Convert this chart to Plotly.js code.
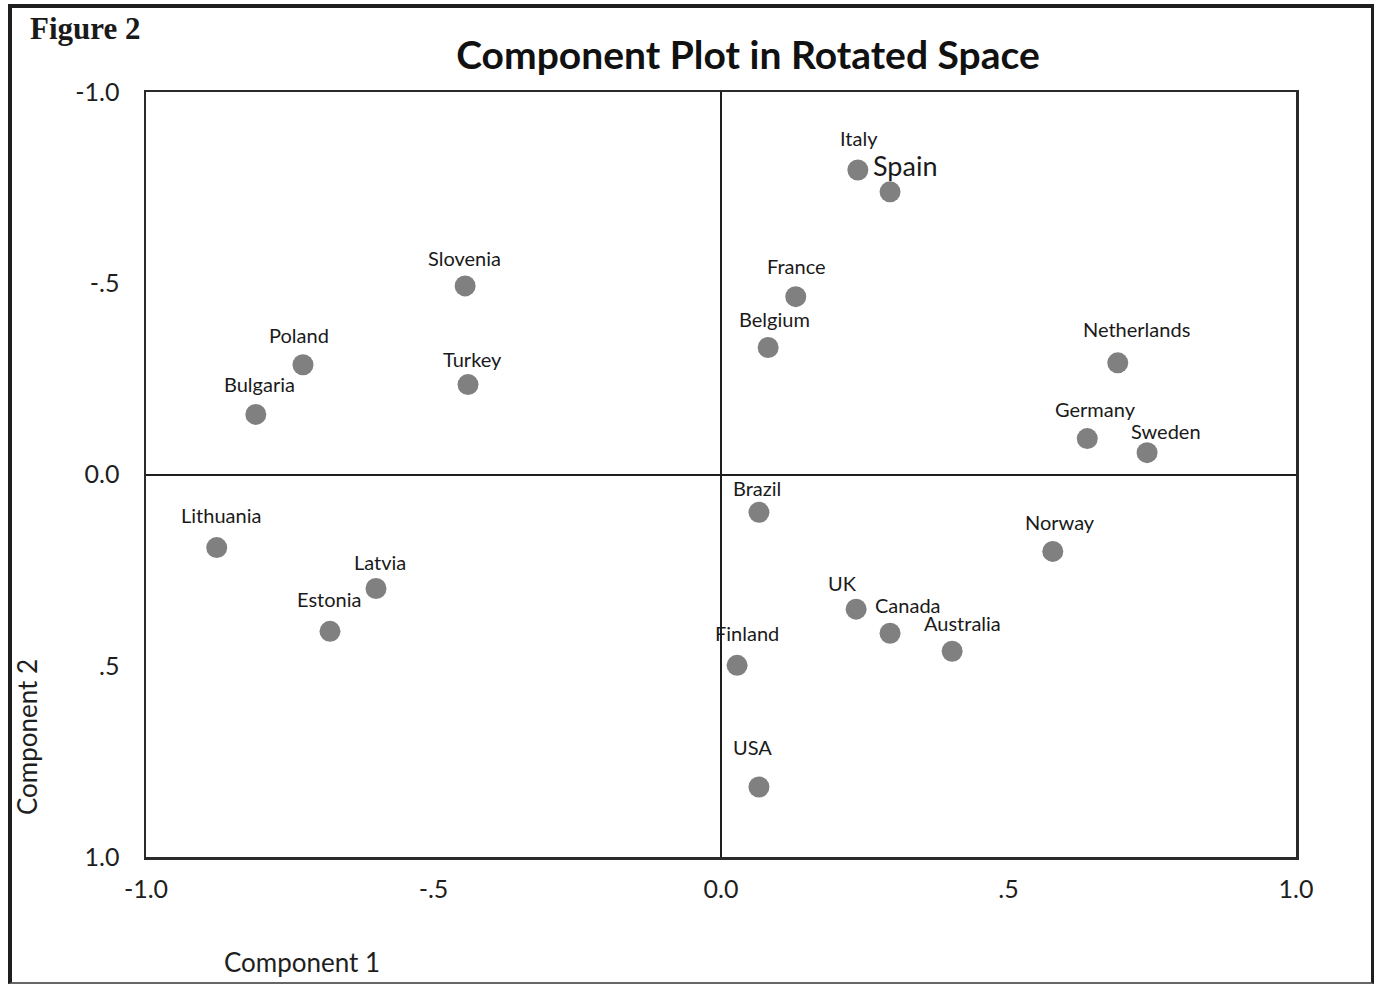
<!DOCTYPE html>
<html>
<head>
<meta charset="utf-8">
<script src="https://cdn.plot.ly/plotly-3.0.1.min.js"></script>
<style>
  html, body { margin: 0; padding: 0; background: #ffffff; }
  #wrap { position: relative; width: 1375px; height: 984px; overflow: hidden; }
  #chart { position: absolute; left: 0; top: 0; width: 1375px; height: 984px; }
  #frame { position: absolute; left: 8px; top: 4px; width: 1366px; height: 980px;
           border: 4px solid #1e1e1e; border-right-width: 3px; border-bottom: 2px solid #666;
           pointer-events: none; box-sizing: border-box; }
</style>
</head>
<body>
<div id="wrap">
  <div id="chart"></div>
  <div id="frame"></div>
</div>
<script>
// ---- data ----
const countries = ["Italy","Spain","Slovenia","France","Belgium","Netherlands","Poland","Turkey","Bulgaria","Germany","Sweden","Brazil","Lithuania","Norway","Latvia","UK","Estonia","Canada","Australia","Finland","USA"];
const component1 = [0.238, 0.294, -0.445, 0.130, 0.082, 0.690, -0.727, -0.440, -0.809, 0.637, 0.741, 0.066, -0.877, 0.577, -0.600, 0.235, -0.680, 0.294, 0.402, 0.028, 0.066];
const component2 = [-0.796, -0.739, -0.493, -0.465, -0.332, -0.292, -0.287, -0.235, -0.157, -0.094, -0.057, 0.099, 0.191, 0.201, 0.298, 0.352, 0.410, 0.415, 0.462, 0.499, 0.817];
const tickValues = [-1, -0.5, 0, 0.5, 1];
const tickLabels = ["-1.0", "-.5", "0.0", ".5", "1.0"];

// ---- label styling (pixel offsets of each label from its point) ----
const labelDx = [1, 15, -1, 1, 6, 19, -4, 4, 4, 8, 19, -2, 4, 7, 4, -14, -1, 18, 10, 10, -6];
const labelDy = [32, 26, 28, 31, 29, 34, 30, 26, 30, 30, 22, 24, 33, 29, 26, 26, 32, 28, 28, 32, 40];
const labelSize = [20, 27, 20, 20, 20, 20, 20, 20, 20, 20, 20, 20, 20, 20, 20, 20, 20, 20, 20, 20, 20];

const FONT = "Lato, 'Open Sans', sans-serif";
// plot area in pixels
const L = 146, R = 1296, T = 92, B = 857, W = 1375, H = 984;
const px = p => (p - L) / (R - L);
const py = p => (B - p) / (B - T);

const trace = {
  type: "scatter",
  mode: "markers",
  x: component1,
  y: component2,
  text: countries,
  marker: { size: 21, color: "#808080", line: { width: 0 } },
  hoverinfo: "text",
  cliponaxis: false
};

const annotations = countries.map((c, i) => ({
  x: component1[i], y: component2[i], xref: "x", yref: "y",
  text: c, showarrow: false,
  xshift: labelDx[i], yshift: labelDy[i],
  xanchor: "center", yanchor: "middle",
  font: { family: FONT, size: labelSize[i], color: "#1a1a1a" }
}));

annotations.push(
  { xref: "paper", yref: "paper", x: px(28), y: py(28), xanchor: "left", yanchor: "middle",
    text: "<b>Figure 2</b>", showarrow: false,
    font: { family: "'Liberation Serif', 'Times New Roman', serif", size: 31, color: "#1a1a1a" } },
  { xref: "paper", yref: "paper", x: px(222), y: py(962), xanchor: "left", yanchor: "middle",
    text: "Component 1", showarrow: false,
    font: { family: FONT, size: 26, color: "#1e1e1e" } },
  { xref: "paper", yref: "paper", x: px(27), y: py(737), xanchor: "center", yanchor: "middle",
    text: "Component 2", showarrow: false, textangle: -90,
    font: { family: FONT, size: 26, color: "#1e1e1e" } }
);

const axisCommon = {
  tickvals: tickValues,
  ticktext: tickLabels,
  showgrid: false,
  zeroline: true,
  zerolinecolor: "#1e1e1e",
  zerolinewidth: 2,
  showline: true,
  mirror: true,
  linecolor: "#2a2a2a",
  linewidth: 2.5,
  ticks: "",
  tickfont: { family: FONT, size: 25, color: "#1e1e1e" },
  fixedrange: true
};

const layout = {
  width: W, height: H,
  margin: { l: L, r: W - R, t: T, b: H - B, pad: 0 },
  paper_bgcolor: "#ffffff",
  plot_bgcolor: "#ffffff",
  showlegend: false,
  title: {
    text: "<b>Component Plot in Rotated Space</b>",
    x: 748 / W, xanchor: "center", xref: "container",
    y: 1 - 55 / H, yanchor: "middle", yref: "container",
    font: { family: FONT, size: 39, color: "#111111" }
  },
  xaxis: Object.assign({}, axisCommon, { range: [-1, 1], ticklabelstandoff: 8 }),
  yaxis: Object.assign({}, axisCommon, { range: [1, -1], ticklabelstandoff: 19 }),
  annotations: annotations
};

Plotly.newPlot("chart", [trace], layout, { displayModeBar: false, staticPlot: true });
</script>
</body>
</html>
